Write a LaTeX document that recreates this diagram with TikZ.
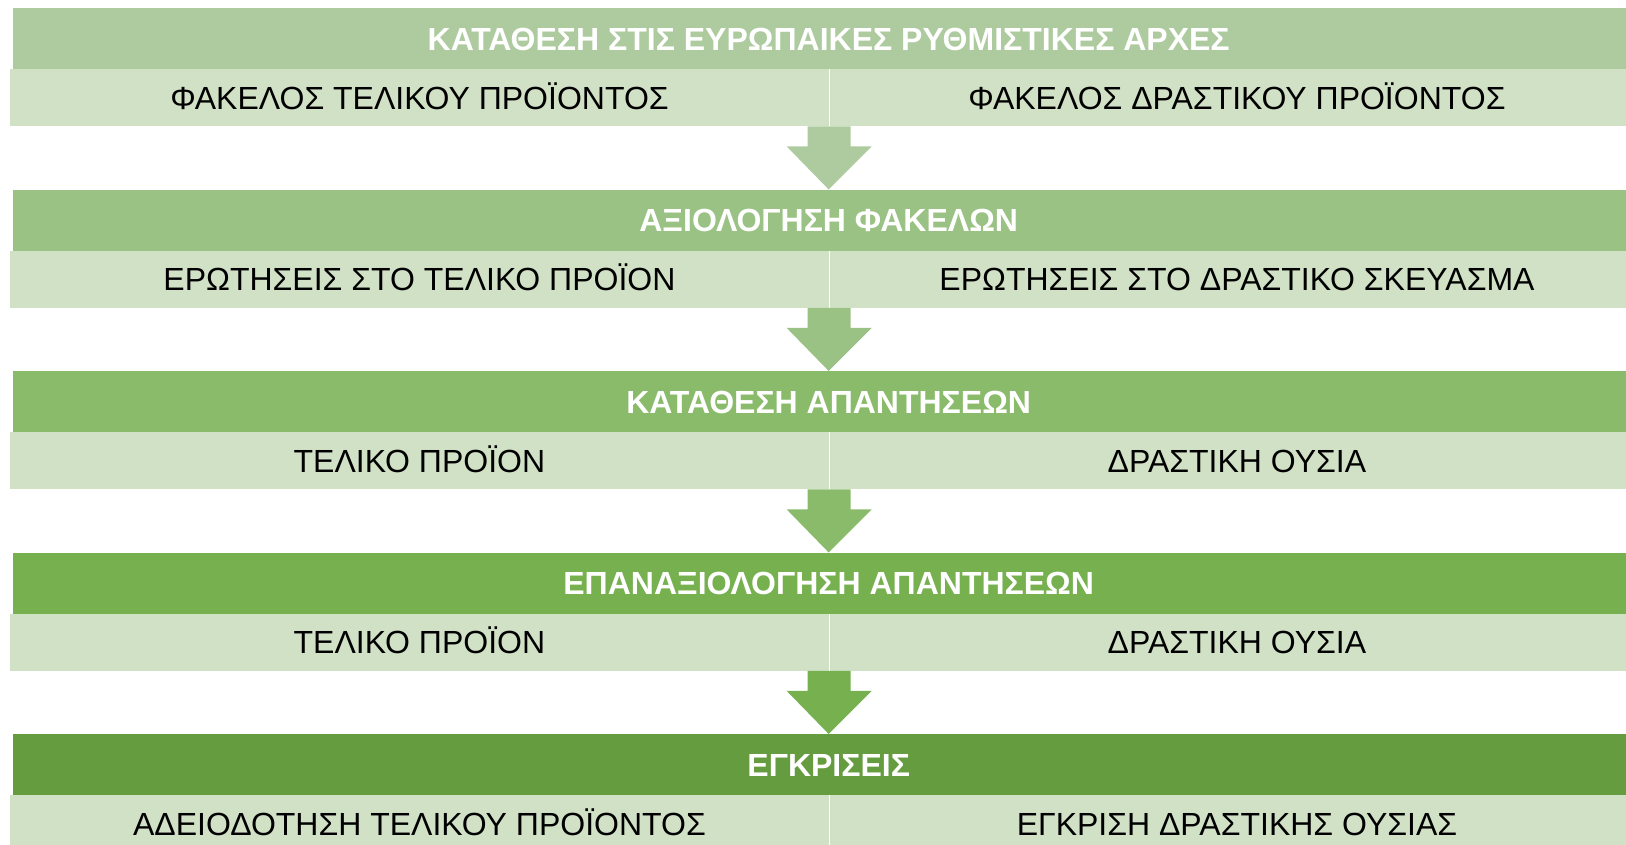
\documentclass[tikz,border=0pt]{standalone}
\usepackage{fontspec}
\setmainfont{Liberation Sans}
\usetikzlibrary{positioning,calc}
\definecolor{cHeadA}{HTML}{ADCB9E}
\definecolor{cHeadB}{HTML}{9BC285}
\definecolor{cHeadC}{HTML}{8ABB6B}
\definecolor{cHeadD}{HTML}{76B04F}
\definecolor{cHeadE}{HTML}{669C40}
\definecolor{cCell}{HTML}{D1E1C6}
\tikzset{
  headbar/.style={fill=#1,text=white,font=\fontsize{32}{38}\selectfont\bfseries,minimum width=1631pt,minimum height=61pt,anchor=north west,inner sep=0pt,text height=23pt,text depth=0pt},
  cellbar/.style={fill=cCell,text=black,font=\fontsize{32}{38}\selectfont,minimum width=#1,minimum height=57pt,anchor=north west,inner sep=0pt,text height=23pt,text depth=0pt},
  blockarr/.style={fill=#1},
}

\begin{document}
\begin{tikzpicture}[x=1pt,y=-1pt]
  \useasboundingbox (0,0) rectangle (1626,845);
  \clip (0,0) rectangle (1626,845);
  \fill[white] (0,0) rectangle (1626,845);
  \foreach \k/\c/\t/\l/\r in {%
    0/cHeadA/ΚΑΤΑΘΕΣΗ ΣΤΙΣ ΕΥΡΩΠΑΙΚΕΣ ΡΥΘΜΙΣΤΙΚΕΣ ΑΡΧΕΣ/ΦΑΚΕΛΟΣ ΤΕΛΙΚΟΥ ΠΡΟΪΟΝΤΟΣ/ΦΑΚΕΛΟΣ ΔΡΑΣΤΙΚΟΥ ΠΡΟΪΟΝΤΟΣ,
    1/cHeadB/ΑΞΙΟΛΟΓΗΣΗ ΦΑΚΕΛΩΝ/ΕΡΩΤΗΣΕΙΣ ΣΤΟ ΤΕΛΙΚΟ ΠΡΟΪΟΝ/ΕΡΩΤΗΣΕΙΣ ΣΤΟ ΔΡΑΣΤΙΚΟ ΣΚΕΥΑΣΜΑ,
    2/cHeadC/ΚΑΤΑΘΕΣΗ ΑΠΑΝΤΗΣΕΩΝ/ΤΕΛΙΚΟ ΠΡΟΪΟΝ/ΔΡΑΣΤΙΚΗ ΟΥΣΙΑ,
    3/cHeadD/ΕΠΑΝΑΞΙΟΛΟΓΗΣΗ ΑΠΑΝΤΗΣΕΩΝ/ΤΕΛΙΚΟ ΠΡΟΪΟΝ/ΔΡΑΣΤΙΚΗ ΟΥΣΙΑ,
    4/cHeadE/ΕΓΚΡΙΣΕΙΣ/ΑΔΕΙΟΔΟΤΗΣΗ ΤΕΛΙΚΟΥ ΠΡΟΪΟΝΤΟΣ/ΕΓΚΡΙΣΗ ΔΡΑΣΤΙΚΗΣ ΟΥΣΙΑΣ}{
    \node[headbar=\c] (h\k) at (13,8+181.5*\k) {\t};
    \node[cellbar=818.5pt] (l\k) at (10,69+181.5*\k) {\l};
    \node[cellbar=814.5pt] (r\k) at (829.5,69+181.5*\k) {\r};
    \coordinate (a\k) at ($(l\k.south east)!0.5!(r\k.south west)$);
  }
  \foreach \k/\n/\c in {0/1/cHeadA,1/2/cHeadB,2/3/cHeadC,3/4/cHeadD}{
    \fill[blockarr=\c] ($(a\k)+(-21.5,0)$) -- ($(a\k)+(21.5,0)$) -- ($(a\k)+(21.5,20)$)
      -- ($(a\k)+(42.5,20)$) -- (h\n.north) -- ($(a\k)+(-42.5,20)$) -- ($(a\k)+(-21.5,20)$) -- cycle;
  }
\end{tikzpicture}
\end{document}
